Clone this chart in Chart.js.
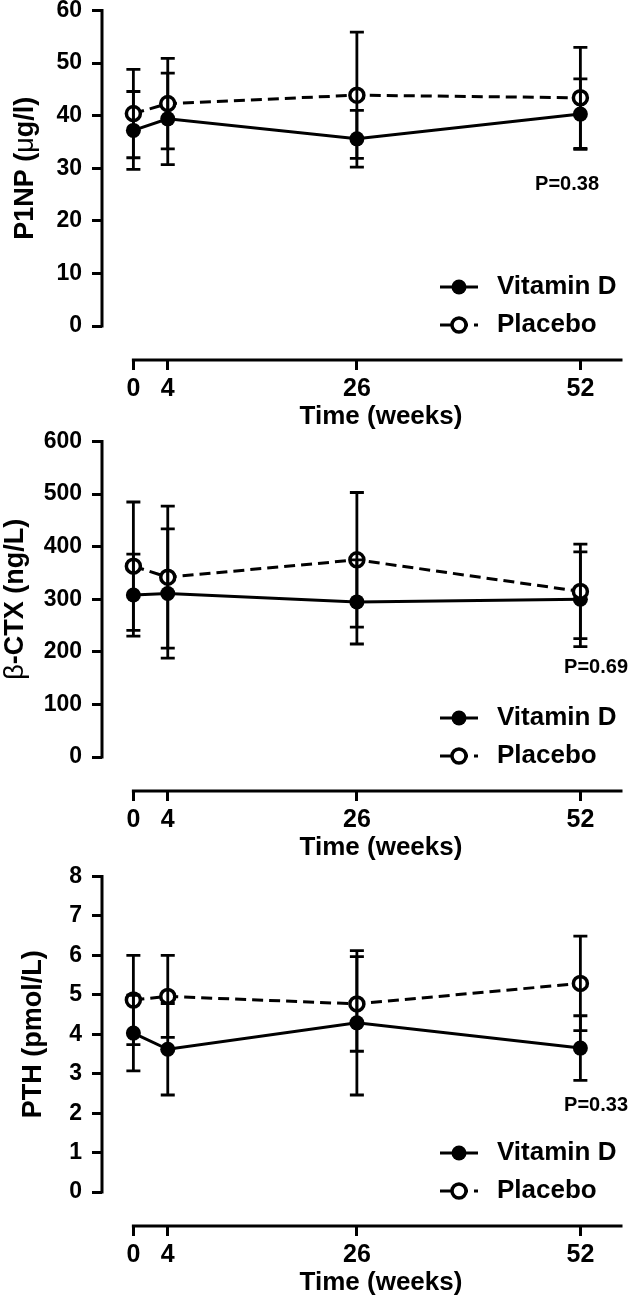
<!DOCTYPE html>
<html>
<head>
<meta charset="utf-8">
<script src="https://cdn.jsdelivr.net/npm/chart.js@4.4.0/dist/chart.umd.min.js"></script>
<style>
  body { margin: 0; background: #fff; width: 633px; height: 1303px; overflow: hidden; }
  .panel { position: absolute; left: 0; width: 633px; height: 434px; }
</style>
</head>
<body>
<div class="panel" style="top:0"><canvas id="p1npChart" width="633" height="434"></canvas></div>
<div class="panel" style="top:431px"><canvas id="ctxChart" width="633" height="434"></canvas></div>
<div class="panel" style="top:866px"><canvas id="pthChart" width="633" height="434"></canvas></div>
<script>
// shared x axis (weeks)
const weeks = [0, 4, 26, 52];
const weekTicks = [0, 4, 26, 52];

// P1NP (ug/l)
const p1npTicks = [0, 10, 20, 30, 40, 50, 60];
const p1npVitD = [37.2, 39.4, 35.6, 40.3];
const p1npVitDErr = [7.4, 8.7, 5.4, 6.7];
const p1npPlacebo = [40.4, 42.3, 43.9, 43.4];
const p1npPlaceboErr = [8.4, 8.6, 12.0, 9.6];

// beta-CTX (ng/L)
const ctxTicks = [0, 100, 200, 300, 400, 500, 600];
const ctxVitD = [308, 311, 295, 300];
const ctxVitDErr = [78, 123, 80, 90];
const ctxPlacebo = [363, 342, 375, 315];
const ctxPlaceboErr = [122, 135, 128, 90];

// PTH (pmol/L)
const pthTicks = [0, 1, 2, 3, 4, 5, 6, 7, 8];
const pthVitD = [4.03, 3.62, 4.29, 3.65];
const pthVitDErr = [0.96, 1.16, 1.83, 0.82];
const pthPlacebo = [4.87, 4.96, 4.77, 5.29];
const pthPlaceboErr = [1.13, 1.04, 1.2, 1.2];

const FONT = '"Liberation Sans", Arial, Helvetica, sans-serif';
const SPAN = 316;   // px from top tick to zero
const GAP = 34;     // px from zero to detached x axis

const decorPlugin = {
    id: 'decor',
    afterDatasetsDraw(chart) {
        const { ctx, scales: { x, y } } = chart;
        ctx.save();
        ctx.strokeStyle = '#000';
        ctx.lineWidth = 2.8;
        chart.data.datasets.forEach(ds => {
            ds.data.forEach((pt, i) => {
                const err = ds.errors[i];
                const px = x.getPixelForValue(pt.x);
                const top = y.getPixelForValue(pt.y + err);
                const bot = y.getPixelForValue(pt.y - err);
                ctx.beginPath();
                ctx.moveTo(px, top); ctx.lineTo(px, bot);
                ctx.moveTo(px - 7, top); ctx.lineTo(px + 7, top);
                ctx.moveTo(px - 7, bot); ctx.lineTo(px + 7, bot);
                ctx.stroke();
            });
        });
        ctx.restore();
    },
    afterDraw(chart, args, opts) {
        const { ctx, chartArea, scales: { x, y } } = chart;
        const yMaxVal = y.max;
        ctx.save();
        ctx.strokeStyle = '#000';
        ctx.fillStyle = '#000';
        ctx.lineWidth = 3;

        // y axis line, stops at zero
        ctx.beginPath();
        ctx.moveTo(chartArea.left, y.getPixelForValue(yMaxVal) - 1.5);
        ctx.lineTo(chartArea.left, y.getPixelForValue(0) + 1.5);
        ctx.stroke();

        // detached x axis line
        ctx.beginPath();
        ctx.moveTo(x.getPixelForValue(0) - 1.5, chartArea.bottom);
        ctx.lineTo(chartArea.right, chartArea.bottom);
        ctx.stroke();

        // x title
        ctx.font = 'bold 26px ' + FONT;
        ctx.textAlign = 'center';
        ctx.textBaseline = 'middle';
        ctx.fillText('Time (weeks)', 381, chartArea.bottom + 57);

        // y title (rotated, mixed weights)
        const cy = (y.getPixelForValue(yMaxVal) + y.getPixelForValue(0)) / 2;
        ctx.save();
        ctx.translate(opts.titleX, cy);
        ctx.rotate(-Math.PI / 2);
        let total = 0;
        opts.title.forEach(seg => {
            ctx.font = (seg.bold ? 'bold ' : '') + '27px ' + FONT;
            total += ctx.measureText(seg.text).width;
        });
        let cx = -total / 2;
        ctx.textAlign = 'left';
        opts.title.forEach(seg => {
            ctx.font = (seg.bold ? 'bold ' : '') + '27px ' + FONT;
            ctx.fillText(seg.text, cx, 0);
            cx += ctx.measureText(seg.text).width;
        });
        ctx.restore();

        // P value
        ctx.font = 'bold 20px ' + FONT;
        ctx.textAlign = 'right';
        ctx.fillText(opts.pText, opts.pRight, y.getPixelForValue(opts.pValueY));

        // legend
        const zeroPx = y.getPixelForValue(0);
        const rows = [
            { ds: chart.data.datasets[1], yy: zeroPx - 39 },
            { ds: chart.data.datasets[0], yy: zeroPx - 1 }
        ];
        rows.forEach(r => {
            ctx.save();
            ctx.lineWidth = 3;
            ctx.setLineDash(r.ds.borderDash || []);
            ctx.beginPath();
            ctx.moveTo(440, r.yy); ctx.lineTo(478, r.yy);
            ctx.stroke();
            ctx.restore();
            ctx.beginPath();
            ctx.arc(459, r.yy, r.ds.pointRadius, 0, Math.PI * 2);
            ctx.fillStyle = r.ds.pointBackgroundColor;
            ctx.fill();
            if (r.ds.pointBorderWidth) {
                ctx.lineWidth = r.ds.pointBorderWidth;
                ctx.strokeStyle = '#000';
                ctx.stroke();
            }
            ctx.fillStyle = '#000';
            ctx.font = 'bold 26px ' + FONT;
            ctx.textAlign = 'left';
            ctx.fillText(r.ds.label, 497, r.yy);
        });
        ctx.restore();
    }
};

function toPoints(values) {
    return weeks.map((w, i) => ({ x: w, y: values[i] }));
}

function makePanel(id, cfg) {
    const yMin = -cfg.ticks[cfg.ticks.length - 1] * GAP / SPAN;
    new Chart(document.getElementById(id), {
        type: 'line',
        data: {
            datasets: [{
                label: 'Placebo',
                data: toPoints(cfg.placebo),
                errors: cfg.placeboErr,
                borderColor: '#000',
                borderWidth: 3,
                borderDash: [11, 6],
                pointRadius: 7,
                pointBorderWidth: 3.5,
                pointBorderColor: '#000',
                pointBackgroundColor: '#fff',
                tension: 0,
                order: 0
            }, {
                label: 'Vitamin D',
                data: toPoints(cfg.vitD),
                errors: cfg.vitDErr,
                borderColor: '#000',
                borderWidth: 3,
                pointRadius: 7.5,
                pointBorderWidth: 0,
                pointBackgroundColor: '#000',
                tension: 0,
                order: 1
            }]
        },
        options: {
            responsive: false,
            animation: false,
            devicePixelRatio: 1,
            layout: { padding: { top: 10, right: 0, bottom: 0, left: 0 } },
            plugins: {
                legend: { display: false },
                tooltip: { enabled: false },
                decor: {
                    title: cfg.title,
                    titleX: cfg.titleX,
                    pText: cfg.pText,
                    pRight: cfg.pRight,
                    pValueY: cfg.pValueY
                }
            },
            scales: {
                x: {
                    type: 'linear',
                    min: -3.65,
                    max: 56.9,
                    afterBuildTicks: s => { s.ticks = weekTicks.map(v => ({ value: v })); },
                    afterFit: s => { s.height = 74; s.paddingLeft = 0; s.paddingRight = 0; },
                    border: { display: false },
                    grid: { drawOnChartArea: false, drawTicks: true, tickLength: 10, color: '#000', lineWidth: 3 },
                    ticks: { color: '#000', font: { family: FONT, size: 25, weight: 'bold' }, padding: 4, maxRotation: 0, autoSkip: false }
                },
                y: {
                    min: yMin,
                    max: cfg.ticks[cfg.ticks.length - 1],
                    afterBuildTicks: s => { s.ticks = cfg.ticks.map(v => ({ value: v })); },
                    afterFit: s => { s.width = 102; s.paddingTop = 0; s.paddingBottom = 0; },
                    border: { display: false },
                    grid: { drawOnChartArea: false, drawTicks: true, tickLength: 10, color: '#000', lineWidth: 3 },
                    ticks: { color: '#000', font: { family: FONT, size: 23, weight: 'bold' }, padding: 10 }
                }
            }
        },
        plugins: [decorPlugin]
    });
}

makePanel('p1npChart', {
    ticks: p1npTicks, vitD: p1npVitD, vitDErr: p1npVitDErr,
    placebo: p1npPlacebo, placeboErr: p1npPlaceboErr,
    title: [{ text: 'P1NP (', bold: true }, { text: 'μ', bold: false }, { text: 'g/l)', bold: true }],
    titleX: 26, pText: 'P=0.38', pRight: 599, pValueY: 26.9
});

makePanel('ctxChart', {
    ticks: ctxTicks, vitD: ctxVitD, vitDErr: ctxVitDErr,
    placebo: ctxPlacebo, placeboErr: ctxPlaceboErr,
    title: [{ text: 'β', bold: false }, { text: '-CTX (ng/L)', bold: true }],
    titleX: 16, pText: 'P=0.69', pRight: 628, pValueY: 170
});

makePanel('pthChart', {
    ticks: pthTicks, vitD: pthVitD, vitDErr: pthVitDErr,
    placebo: pthPlacebo, placeboErr: pthPlaceboErr,
    title: [{ text: 'PTH (pmol/L)', bold: true }],
    titleX: 34, pText: 'P=0.33', pRight: 628, pValueY: 2.2
});
</script>
</body>
</html>
